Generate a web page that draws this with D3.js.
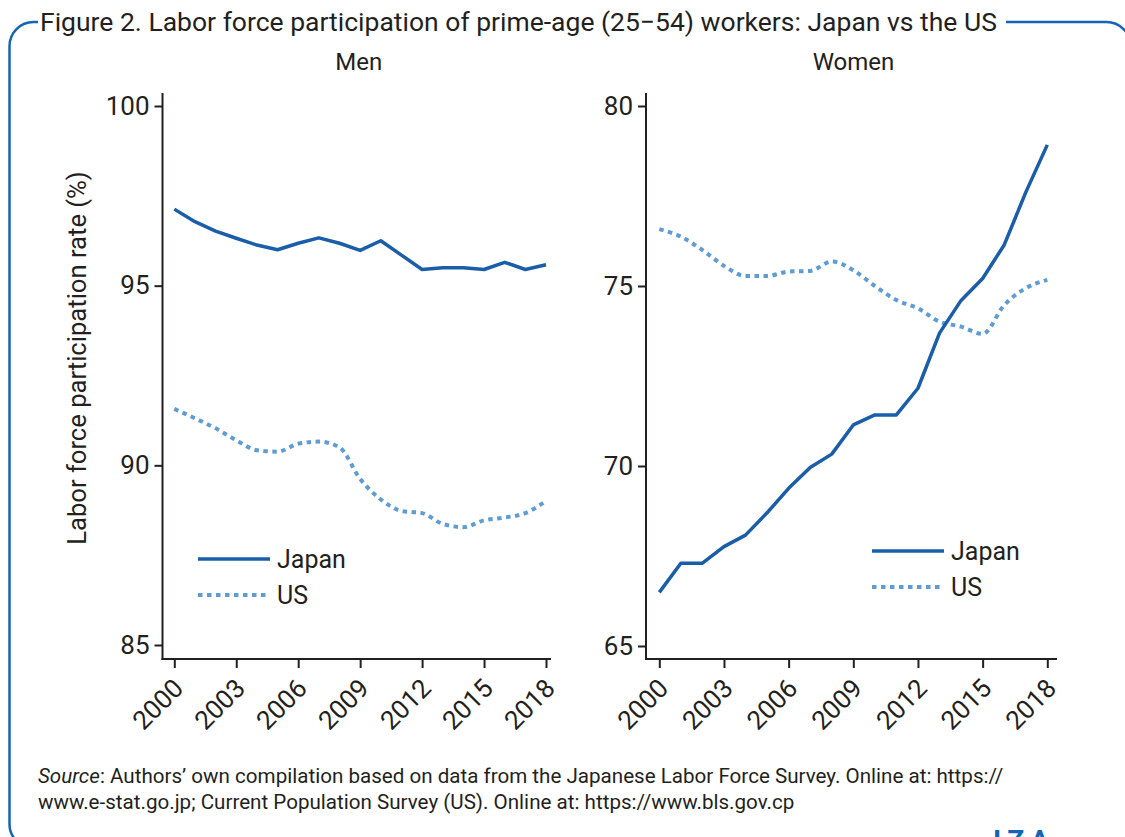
<!DOCTYPE html>
<html>
<head>
<meta charset="utf-8">
<style>
  body { margin: 0; background: #fff; }
  text { font-family: Roboto, "Liberation Sans", sans-serif; fill: #231f20; }
</style>
</head>
<body>
<svg id="chart"></svg>
<script src="https://cdn.jsdelivr.net/npm/d3@7"></script>
<script>
// data (annual, 2000-2018)
let years = [2000, 2001, 2002, 2003, 2004, 2005, 2006, 2007, 2008, 2009,
             2010, 2011, 2012, 2013, 2014, 2015, 2016, 2017, 2018];
let xTicks = [2000, 2003, 2006, 2009, 2012, 2015, 2018];

let menJapan = [97.13, 96.78, 96.52, 96.32, 96.13, 96.0, 96.18, 96.33, 96.18, 95.98,
                96.25, 95.85, 95.45, 95.5, 95.5, 95.45, 95.65, 95.45, 95.58];
let menUS = [91.57, 91.31, 91.03, 90.7, 90.42, 90.38, 90.6, 90.66, 90.5, 89.62,
             89.05, 88.73, 88.67, 88.37, 88.28, 88.47, 88.55, 88.67, 89.01];
let womenJapan = [66.49, 67.3, 67.3, 67.76, 68.08, 68.7, 69.38, 69.96, 70.33, 71.14,
                  71.42, 71.42, 72.16, 73.69, 74.6, 75.21, 76.14, 77.6, 78.92];
let womenUS = [76.58, 76.37, 76.0, 75.56, 75.28, 75.28, 75.4, 75.42, 75.68, 75.44,
               75.0, 74.61, 74.38, 74.01, 73.87, 73.67, 74.47, 74.94, 75.17];

let menTicks = [85, 90, 95, 100];
let womenTicks = [65, 70, 75, 80];

let japanColor = "#1a5da8";
let usColor = "#5f9cd3";
let frameColor = "#1565b4";

let width = 1125, height = 837;
let svg = d3.select("#chart").attr("width", width).attr("height", height);

// frame
svg.append("rect")
    .attr("x", 9.5).attr("y", 22)
    .attr("width", 1121).attr("height", 826)
    .attr("rx", 24).attr("ry", 24)
    .attr("fill", "none")
    .attr("stroke", frameColor)
    .attr("stroke-width", 2.5);

svg.append("rect")
    .attr("x", 38).attr("y", 8).attr("width", 968).attr("height", 28)
    .attr("fill", "#fff");

svg.append("text")
    .attr("x", 40).attr("y", 31)
    .attr("font-size", 26.5)
    .text("Figure 2. Labor force participation of prime-age (25\u221254) workers: Japan vs the US");

let panels = [
    {title: "Men", japan: menJapan, us: menUS, ticks: menTicks,
     xr: [174.3, 546], axisX: [162.5, 551], yr: [645, 106], legend: [198, 559]},
    {title: "Women", japan: womenJapan, us: womenUS, ticks: womenTicks,
     xr: [659.3, 1047.3], axisX: [646, 1057], yr: [646, 106], legend: [872, 551]}
];

let axisBottomY = 659;
let axisTopY = 93;

panels.forEach(p => {
    let x = d3.scaleLinear().domain([2000, 2018]).range(p.xr);
    let y = d3.scaleLinear().domain([p.ticks[0], p.ticks[p.ticks.length - 1]]).range(p.yr);

    let g = svg.append("g");

    g.append("text")
        .attr("x", (p.axisX[0] + p.axisX[1]) / 2 + 2)
        .attr("y", 70)
        .attr("text-anchor", "middle")
        .attr("font-size", 24)
        .text(p.title);

    // axis lines
    g.append("line")
        .attr("x1", p.axisX[0]).attr("x2", p.axisX[0])
        .attr("y1", axisTopY).attr("y2", axisBottomY + 1)
        .attr("stroke", "#231f20").attr("stroke-width", 2);
    g.append("line")
        .attr("x1", p.axisX[0] - 1).attr("x2", p.axisX[1])
        .attr("y1", axisBottomY).attr("y2", axisBottomY)
        .attr("stroke", "#231f20").attr("stroke-width", 2);

    let yAxis = g.append("g")
        .attr("transform", `translate(${p.axisX[0]},0)`)
        .call(d3.axisLeft(y).tickValues(p.ticks).tickSize(8).tickPadding(5));
    yAxis.select(".domain").remove();
    yAxis.selectAll("line").attr("stroke", "#231f20").attr("stroke-width", 2);
    yAxis.selectAll("text").attr("font-size", 26).attr("font-family", null).style("fill", "#231f20");

    let xAxis = g.append("g")
        .attr("transform", `translate(0,${axisBottomY})`)
        .call(d3.axisBottom(x).tickValues(xTicks).tickFormat(d3.format("d")).tickSize(9));
    xAxis.select(".domain").remove();
    xAxis.selectAll("line").attr("stroke", "#231f20").attr("stroke-width", 2);
    xAxis.selectAll("text")
        .attr("font-size", 26).attr("font-family", null).style("fill", "#231f20")
        .attr("text-anchor", "end")
        .attr("dy", 0).attr("y", 0)
        .attr("transform", "translate(10,31) rotate(-45)");

    let line = d3.line().x((d, i) => x(years[i])).y(d => y(d));

    g.append("path")
        .datum(p.us)
        .attr("d", line.curve(d3.curveMonotoneX))
        .attr("fill", "none")
        .attr("stroke", usColor)
        .attr("stroke-width", 4)
        .attr("stroke-dasharray", "4.5,4.5");

    g.append("path")
        .datum(p.japan)
        .attr("d", line.curve(d3.curveLinear))
        .attr("fill", "none")
        .attr("stroke", japanColor)
        .attr("stroke-width", 3.5)
        .attr("stroke-linejoin", "round");

    // legend
    let lx = p.legend[0], ly = p.legend[1];
    g.append("line")
        .attr("x1", lx).attr("x2", lx + 72).attr("y1", ly).attr("y2", ly)
        .attr("stroke", japanColor).attr("stroke-width", 3.5);
    g.append("text").attr("x", lx + 79).attr("y", ly + 9).attr("font-size", 25).text("Japan");
    g.append("line")
        .attr("x1", lx).attr("x2", lx + 72).attr("y1", ly + 36).attr("y2", ly + 36)
        .attr("stroke", usColor).attr("stroke-width", 4).attr("stroke-dasharray", "4.5,4.5");
    g.append("text").attr("x", lx + 79).attr("y", ly + 45).attr("font-size", 25).text("US");
});

svg.append("text")
    .attr("transform", "translate(86,358) rotate(-90)")
    .attr("text-anchor", "middle")
    .attr("font-size", 25.6)
    .text("Labor force participation rate (%)");

let src = svg.append("text").attr("x", 38).attr("y", 783).attr("font-size", 20.6);
src.append("tspan").attr("font-style", "italic").text("Source");
src.append("tspan").text(": Authors\u2019 own compilation based on data from the Japanese Labor Force Survey. Online at: https://");
svg.append("text").attr("x", 38).attr("y", 809).attr("font-size", 20.6)
    .text("www.e-stat.go.jp; Current Population Survey (US). Online at: https://www.bls.gov.cp");

svg.append("text")
    .attr("x", 993).attr("y", 850)
    .attr("font-size", 28).attr("font-weight", "bold")
    .attr("letter-spacing", 6)
    .style("fill", frameColor)
    .text("IZA");
</script>
</body>
</html>
